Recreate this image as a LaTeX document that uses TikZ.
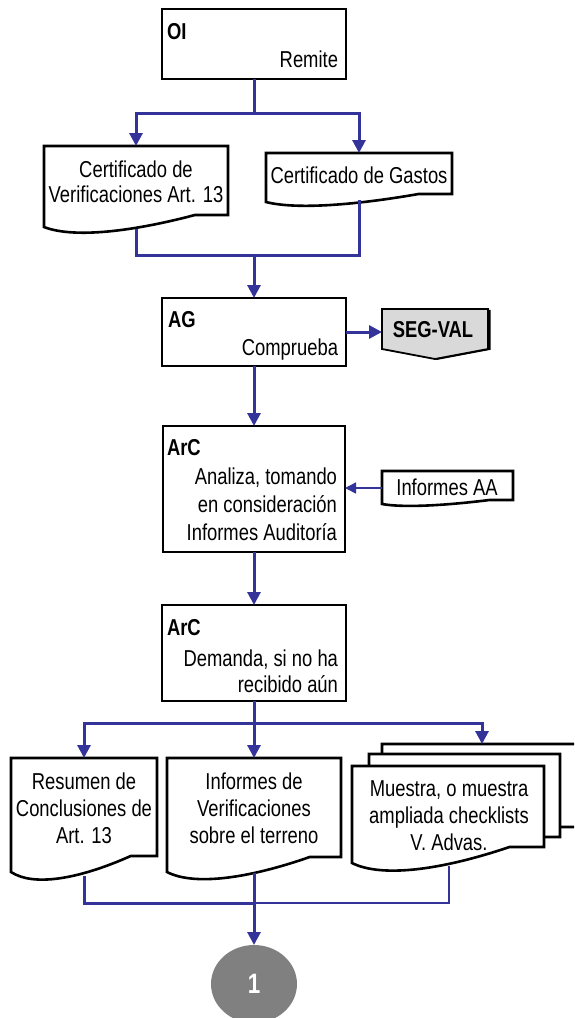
\documentclass[tikz,border=0pt]{standalone}
\usepackage{fontspec}
\setmainfont{Liberation Sans}[FakeStretch=0.80]
\usetikzlibrary{arrows.meta,shapes.geometric}
\definecolor{flow}{RGB}{51,51,153}
\definecolor{tagfill}{RGB}{217,217,217}
\definecolor{connfill}{RGB}{128,128,128}

% document symbol: x-left, y-top, x-right, y-bottom-left, rise of the wavy bottom
\newcommand\docshape[5]{%
  \path[docsym] (#1,#2) -- (#3,#2) -- (#3,{#4-#5}) -- ({#1+0.82*(#3-#1)},{#4-#5})
    .. controls ({#1+0.45*(#3-#1)},{#4+0.5*#5}) and ({#1+0.15*(#3-#1)},{#4+0.9*#5}) .. (#1,#4) -- cycle;}

\begin{document}
\begin{tikzpicture}[x=1pt,y=-1pt,
  every node/.style={inner sep=0pt, outer sep=0pt},
  lbl/.style={font=\fontsize{23}{27}\selectfont\bfseries, anchor=base west},
  rtxt/.style={font=\fontsize{23}{27}\selectfont, anchor=base east, align=right},
  ctxt/.style={font=\fontsize{23}{27}\selectfont, anchor=base, align=center},
  box/.style={draw=black, line width=2.6pt, fill=white},
  docsym/.style={draw=black, line width=2.6pt, fill=white, line join=miter},
  flowline/.style={draw=flow, line width=3pt},
  thinline/.style={draw=flow, line width=1.6pt},
  tip/.style={-{Triangle[length=13pt,width=13pt]}},
  smalltip/.style={-{Triangle[length=11pt,width=11pt]}},
]
\useasboundingbox (0,0) rectangle (574,1018);
\clip (0,0) rectangle (574,1018);

% ---- main process boxes (multi-line texts are placed at their last baseline)
\node[box, minimum width=184pt, minimum height=70pt] (oi) at (254,44) {};
\node[lbl] (oiL) at (167,39) {OI};
\node[rtxt] (oiT) at (338,67) {Remite};

\node[box, minimum width=184pt, minimum height=68pt] (ag) at (254,332) {};
\node[lbl] (agL) at (168,327) {AG};
\node[rtxt] (agT) at (338,355) {Comprueba};

\node[box, minimum width=182pt, minimum height=126pt] (arc1) at (254,489) {};
\node[lbl] (arc1L) at (167,455) {ArC};
\node[rtxt, font=\fontsize{23}{28}\selectfont] (arc1T) at (337,540)
  {Analiza, tomando\\en consideración\\Informes Auditoría};

\node[box, minimum width=184pt, minimum height=96pt] (arc2) at (254,653) {};
\node[lbl] (arc2L) at (167,635) {ArC};
\node[rtxt, font=\fontsize{23}{26}\selectfont] (arc2T) at (338,692)
  {Demanda, si no ha\\recibido aún};

% ---- documents
\docshape{44}{146}{228}{227}{12}
\node[ctxt, font=\fontsize{23}{25}\selectfont] (cvT) at (136,202) {Certificado de\\Verificaciones Art. 13};
\docshape{266}{153}{452}{202}{8}
\node[ctxt] (cgT) at (359,183) {Certificado de Gastos};

\docshape{382}{471}{513}{504}{4}
\node[ctxt] (iaaT) at (447,495) {Informes AA};

\docshape{11}{758}{157}{872}{16}
\node[ctxt] (resT) at (84,843) {Resumen de\\Conclusiones de\\Art. 13};
\docshape{167}{758}{341}{872}{15}
\node[ctxt] (ivtT) at (254,843) {Informes de\\Verificaciones\\sobre el terreno};

\docshape{382}{744}{600}{843}{16}
\docshape{369}{754}{560}{853}{16}
\docshape{352}{766}{544}{863}{16}
\node[ctxt, font=\fontsize{23}{27}\selectfont] (muT) at (449,850) {Muestra, o muestra\\ampliada checklists\\V. Advas.};

% ---- SEG-VAL tag
\path[fill=black, shift={(2.5,0.8)}] (382,309) -- (488,309) -- (488,349) -- (435,359) -- (382,349) -- cycle;
\path[draw=black, line width=1.8pt, fill=tagfill] (382,309) -- (488,309) -- (488,349) -- (435,359) -- (382,349) -- cycle;
\node[font=\fontsize{23}{27}\selectfont\bfseries, anchor=base] (sv) at (433,337) {SEG-VAL};

% ---- off-page connector
\node[ellipse, fill=connfill, minimum width=86pt, minimum height=78pt,
      font=\fontsize{28}{32}\selectfont\bfseries, text=white] (one) at (254,984) {1};

% ---- connection points on the documents
\coordinate (split1) at (254,113);
\coordinate (cvTop) at (136,146);
\coordinate (cgTop) at (359,153);
\coordinate (cvBot) at (136,229);
\coordinate (cgBot) at (359,200);
\coordinate (join1) at (254,255);
\coordinate (svIn) at (382,332);
\coordinate (iaaOut) at (382,488);
\coordinate (split2) at (254,723);
\coordinate (resTop) at (84,758);
\coordinate (ivtTop) at (254,758);
\coordinate (muTop) at (482,744);
\coordinate (resBot) at (84,876);
\coordinate (ivtBot) at (254,873);
\coordinate (muBot) at (449,866);
\coordinate (join2) at (254,903);

% ---- flow
\draw[flowline] (oi.south) -- (split1);
\draw[flowline, tip] (split1) -| (cvTop);
\draw[flowline, tip] (split1) -| (cgTop);
\draw[flowline] (cvBot) |- (join1);
\draw[flowline] (cgBot) |- (join1);
\draw[flowline, tip] (join1) -- (ag.north);
\draw[flowline, tip] (ag.east) -- (svIn);
\draw[flowline, tip] (ag.south) -- (arc1.north);
\draw[thinline, smalltip] (iaaOut) -- (arc1.east |- iaaOut);
\draw[flowline, tip] (arc1.south) -- (arc2.north);
\draw[flowline] (arc2.south) -- (split2);
\draw[flowline, tip] (split2) -| (resTop);
\draw[flowline, tip] (split2) -- (ivtTop);
\draw[flowline, tip] (split2) -| (muTop);
\draw[flowline] (resBot) |- (join2);
\draw[flowline] (ivtBot) -- (join2);
\draw[thinline] (muBot) |- (join2);
\draw[flowline, tip] (join2) -- (one.north);
\end{tikzpicture}
\end{document}
